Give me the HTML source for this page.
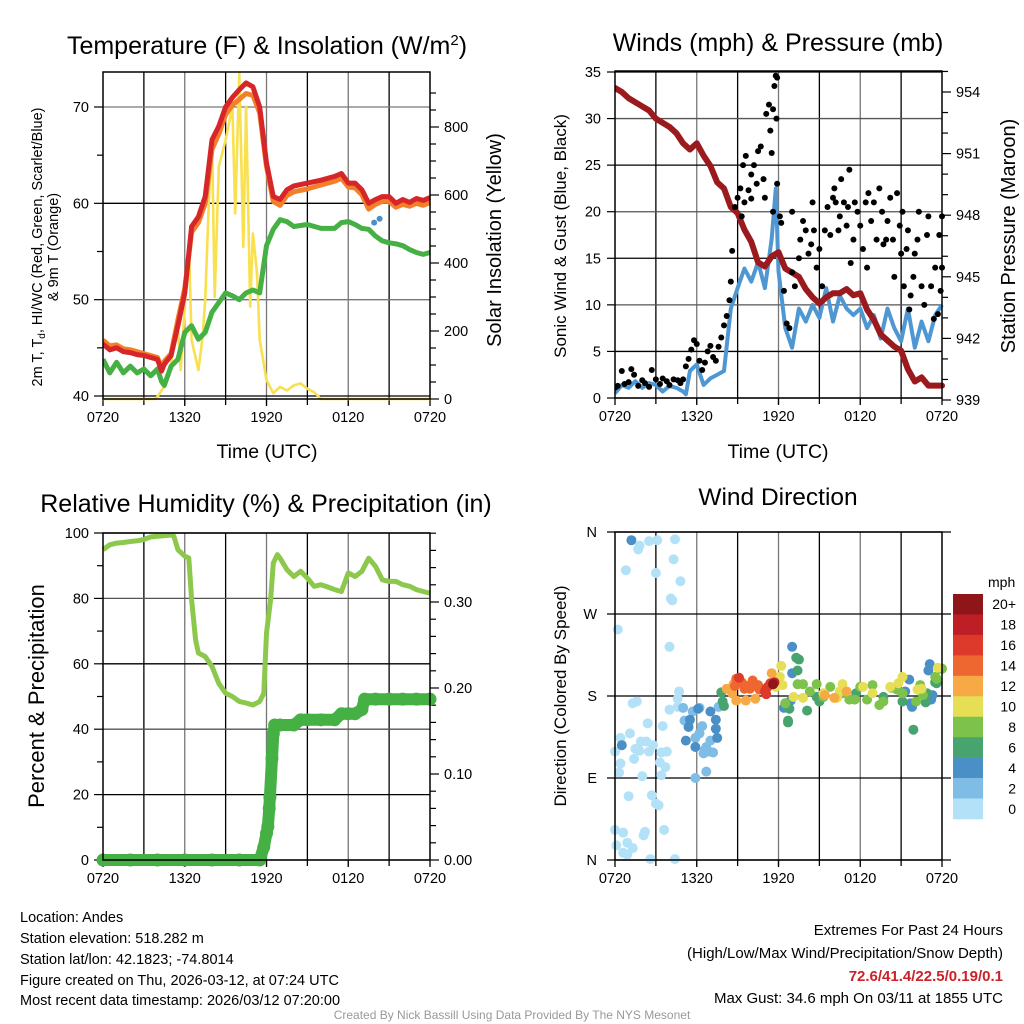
<!DOCTYPE html>
<html><head><meta charset="utf-8"><style>
html,body{margin:0;padding:0;background:#fff;width:1024px;height:1024px;overflow:hidden}
svg{display:block;font-family:"Liberation Sans",Arial,sans-serif}
</style></head><body>
<svg id="chart" width="1024" height="1024" viewBox="0 0 1024 1024" xmlns="http://www.w3.org/2000/svg">
<rect width="1024" height="1024" fill="#fff"/>
<g id="g1"></g>
<g id="g2"></g>
<g id="g3"></g>
<g id="g4"></g>
<text x="267" y="54" font-size="25" text-anchor="middle">Temperature (F) &amp; Insolation (W/m<tspan dy="-9" font-size="15">2</tspan><tspan dy="9">)</tspan></text>
<text x="778" y="51" font-size="25" text-anchor="middle">Winds (mph) &amp; Pressure (mb)</text>
<text x="266" y="512" font-size="25" text-anchor="middle">Relative Humidity (%) &amp; Precipitation (in)</text>
<text x="778" y="505" font-size="24.5" text-anchor="middle">Wind Direction</text>
<text x="267" y="458" font-size="19.5" text-anchor="middle">Time (UTC)</text>
<text x="778" y="458" font-size="19.5" text-anchor="middle">Time (UTC)</text>
<text transform="translate(42,247) rotate(-90)" font-size="14.5" text-anchor="middle">2m T, T<tspan dy="3" font-size="10">d</tspan><tspan dy="-3">, HI/WC (Red, Green, Scarlet/Blue)</tspan></text>
<text transform="translate(58,247) rotate(-90)" font-size="14.5" text-anchor="middle">&amp; 9m T (Orange)</text>
<text transform="translate(501,240) rotate(-90)" font-size="20" text-anchor="middle">Solar Insolation (Yellow)</text>
<text transform="translate(566,236) rotate(-90)" font-size="17" text-anchor="middle">Sonic Wind &amp; Gust (Blue, Black)</text>
<text transform="translate(1015,236) rotate(-90)" font-size="20" text-anchor="middle">Station Pressure (Maroon)</text>
<text transform="translate(44,696) rotate(-90)" font-size="22" text-anchor="middle">Percent &amp; Precipitation</text>
<text transform="translate(566,696) rotate(-90)" font-size="17" text-anchor="middle">Direction (Colored By Speed)</text>
<g font-size="14.5">
<text x="20" y="922">Location: Andes</text>
<text x="20" y="943">Station elevation: 518.282 m</text>
<text x="20" y="964">Station lat/lon: 42.1823; -74.8014</text>
<text x="20" y="985">Figure created on Thu, 2026-03-12, at 07:24 UTC</text>
<text x="20" y="1005">Most recent data timestamp: 2026/03/12 07:20:00</text>
</g>
<g font-size="15" text-anchor="end">
<text x="1003" y="935">Extremes For Past 24 Hours</text>
<text x="1003" y="958">(High/Low/Max Wind/Precipitation/Snow Depth)</text>
<text x="1003" y="981" fill="#cc2229" font-weight="bold">72.6/41.4/22.5/0.19/0.1</text>
<text x="1003" y="1003">Max Gust: 34.6 mph On 03/11 at 1855 UTC</text>
</g>
<text x="512" y="1019" font-size="12" fill="#999" text-anchor="middle">Created By Nick Bassill Using Data Provided By The NYS Mesonet</text>
</svg>
<script>
// ---------- data ----------
const xTickLabels = ["0720","1320","1920","0120","0720"];
const tempHours = [0,0.5,1,1.5,2,2.5,3,3.5,4,4.3,4.5,5,5.5,6,6.5,7,7.5,8,8.5,9,9.5,10,10.5,11,11.5,12,12.5,13,13.5,14,15,16,17,17.5,18,18.5,19,19.5,20,20.5,21,21.5,22,22.5,23,23.5,24];
const airTemp = [45.4,44.8,45.0,44.6,44.5,44.3,44.2,44.0,43.8,42.6,43.3,44.2,47.3,50.7,57.6,58.6,60.7,66.6,68.0,70.0,71.0,71.8,72.5,72.1,70.0,64.2,60.7,60.4,61.4,61.8,62.1,62.4,62.8,63.1,62.1,62.1,61.4,60.0,60.4,60.7,60.7,60.0,60.4,60.1,60.5,60.3,60.6];
const temp9m = [45.8,45.2,45.3,44.9,44.8,44.6,44.4,44.2,44.0,42.9,43.6,44.4,47.9,51.2,57.0,58.0,60.0,65.6,67.2,69.2,70.2,70.8,71.4,71.2,69.4,63.8,60.2,59.8,60.8,61.2,61.5,61.9,62.3,62.6,61.7,61.6,60.9,59.4,59.9,60.2,60.2,59.6,59.9,59.7,60.0,59.8,60.1];
const dewPoint = [43.8,42.4,43.5,42.4,43.1,42.4,42.8,42.1,42.8,41.5,41.1,43.1,43.8,46.6,47.3,45.9,46.6,48.7,49.7,50.7,50.4,50.0,50.7,51.0,50.7,55.6,57.3,58.3,58.1,57.6,57.8,57.4,57.4,58.0,58.1,57.8,57.4,57.3,56.6,56.1,55.9,55.8,55.6,55.2,54.9,54.7,54.9];
const hiwcHours = [19.9,20.3];
const hiwcTemp = [58.0,58.4];
const solarHours = [0,3.8,4,4.5,5,5.2,5.5,5.7,6,6.3,6.5,7,7.3,7.5,7.8,8,8.2,8.5,9,9.5,9.7,10,10.3,10.5,10.8,11,11.3,11.5,12,12.5,13,13.5,14,14.5,15,15.5,16,24];
const solar = [0,0,7,36,95,193,213,85,272,468,174,85,180,291,615,762,300,683,762,860,546,958,448,860,272,487,370,174,56,17,36,25,40,46,30,20,0,0];
const windHours = [0,0.5,1,1.5,2,2.5,3,3.5,4,4.5,5,5.2,5.5,6,6.5,7,7.5,8,8.5,9,9.5,10,10.5,11,11.5,11.8,12,12.5,13,13.5,14,14.5,15,15.5,16,16.5,17,17.5,18,18.5,19,19.5,20,20.5,21,21.5,22,22.5,23,23.5,24];
const sonicWind = [0.5,1.4,1.1,1.8,1.1,1.6,1.4,0.7,1.3,1.1,0.7,0.4,2.9,3.6,1.4,2.1,2.5,2.9,9.6,11.8,13.9,12.5,14.6,11.8,17.1,22.5,13.6,7.5,5.4,9.6,8.2,10.0,8.6,11.8,8.2,11.0,9.6,8.9,9.6,7.5,8.9,6.4,9.6,7.5,6.1,9.6,5.4,8.2,6.1,8.9,10.0];
const pressHours = [0,0.5,1,1.5,2,2.5,3,3.5,4,4.5,5,5.5,6,6.5,7,7.5,8,8.5,9,9.5,10,10.5,11,11.5,12,12.5,13,13.5,14,14.5,15,15.5,16,16.5,17,17.5,18,18.5,19,19.5,20,20.5,21,21.5,22,22.5,23,23.5,24];
const pressure = [954.2,954.0,953.7,953.5,953.3,953.1,952.7,952.5,952.3,952.0,951.5,951.2,951.5,950.9,950.4,949.6,949.3,948.4,948.1,947.3,946.7,945.7,945.5,946.0,946.2,945.4,945.2,945.0,944.4,944.0,943.7,944.0,944.2,944.2,944.4,944.1,944.2,943.4,942.9,942.2,941.9,941.6,941.4,940.5,939.9,940.1,939.7,939.7,939.7];
const gustHours = [0,0.2,0.5,0.7,1,1.2,1.4,1.7,2,2.2,2.5,2.7,3,3.3,3.5,3.8,4,4.3,4.6,4.8,5,5.2,5.4,5.6,5.8,6,6.2,6.4,6.6,6.8,7,7.2,7.4,7.6,7.8,8,8.2,8.4,8.5,8.6,8.8,9,9.2,9.4,9.6,9.3,9.5,9.8,10,10,10.2,10.4,10.5,10.7,10.9,11,11.1,11.3,11.4,11.5,11.6,11.7,11.8,11.9,11.85,11.6,11.9,12.1,12.2,12.4,12.6,12.8,13,13,13.2,13.5,13.6,13.8,14,14.2,14.4,14.5,14.6,14.8,15,15.2,15.4,15.6,15.8,16,16.1,16.2,16.4,16.5,16.6,16.8,17,17.1,17.2,17.3,17.5,17.6,17.8,18,18.2,18.4,18.5,18.6,18.8,19,19.2,19.4,19.6,19.7,19.9,20,20.2,20.4,20.5,20.7,20.9,21,21.1,21.2,21.4,21.5,21.6,21.7,21.9,22,22.2,22.3,22.5,22.7,22.9,23,23.2,23.4,23.5,23.7,23.8,24,24,23.9];
const gusts = [1.1,1.3,2.9,1.5,1.7,3.1,2.5,1.3,1.9,1.6,1.2,3.0,2.0,1.5,2.1,1.8,1.4,2.0,1.9,1.6,2.0,3.4,4.2,5.2,6.2,5.8,4.0,3.0,3.8,5.0,5.6,4.4,4.0,5.5,6.5,7.8,8.8,10.5,12.5,15.8,20.5,21.5,22.5,25.0,26.0,19.5,21.0,22.3,21.4,24.0,25.0,23.0,26.5,27.0,23.5,21.5,30.5,31.5,28.7,26.3,31.0,33.5,34.6,34.4,30.0,20.0,23.0,19.5,18.8,11.5,8.0,7.5,13.5,20.0,12.0,15.0,17.0,19.0,18.0,15.5,16.5,21.0,18.0,14.0,16.0,12.0,18.0,20.5,17.5,21.5,22.5,21.0,18.0,19.5,23.5,21.0,18.5,20.5,24.5,14.5,17.0,21.0,20.0,18.5,16.0,21.0,14.0,22.0,19.0,21.0,17.0,22.5,20.0,16.5,17.0,19.0,21.5,17.0,13.0,22.0,18.5,15.5,20.0,12.0,16.0,18.0,9.5,11.0,13.0,15.5,17.0,20.0,12.0,10.0,17.5,19.5,12.0,8.5,14.0,9.0,17.5,19.5,14.0,11.5];
const rhHours = [0,0.5,1,1.5,2,2.5,3,3.5,4,4.5,5,5.2,5.5,6,6.3,6.5,6.8,7,7.5,8,8.5,9,9.5,10,10.5,11,11.5,11.8,12,12.3,12.5,12.8,13,13.5,14,14.5,15,15.5,16,16.5,17,17.5,18,18.5,19,19.5,20,20.5,21,21.5,22,22.5,23,23.5,24];
const humidity = [94.9,96.4,96.9,97.1,97.4,97.6,98.0,98.8,99.0,99.2,99.4,99.0,94.9,92.9,92.4,79.6,67.3,63.3,62.2,59.2,54.0,51.0,50.0,48.5,48.0,47.4,48.5,51.0,69.4,79.6,90.8,93.4,92.3,88.8,86.7,88.3,86.2,83.7,84.2,83.5,82.7,82.1,87.8,86.7,88.3,92.3,89.8,85.7,85.2,85.2,84.2,83.7,82.7,82.1,81.6];
const precipHours = [0,2,4,6,8,10,11.5,11.8,12.0,12.1,12.2,12.25,12.4,12.5,12.6,13,14,14.5,15,16,17,17.5,18,18.5,19,19.2,20,21,22,23,24];
const precip = [0,0,0,0,0,0,0,0.015,0.031,0.039,0.060,0.073,0.118,0.147,0.157,0.157,0.157,0.163,0.163,0.163,0.163,0.170,0.170,0.170,0.175,0.187,0.187,0.187,0.187,0.187,0.187];
const dirHours = [1.7,1.8,2.5,3.1,4.4,0.8,3.0,4.3,4.8,4.1,4.2,0.2,4.0,4.7,4.6,4.0,1.6,1.3,2.4,3.5,1.1,0.4,0.0,1.5,1.9,2.3,2.8,1.8,1.4,2.5,3.4,3.8,0.4,0.3,2.0,3.3,3.7,3.4,1.0,2.7,3.0,3.2,3.6,0.0,0.6,2.2,2.1,0.9,0.1,1.3,0.6,0.9,2.6,4.4,4.6,
 5.0,5.1,5.4,6.2,6.4,5.9,6.2,6.5,6.9,7.2,6.7,7.0,5.9,6.7,5.7,7.6,6.6,
 1.2,0.5,5.2,5.4,5.5,7.4,7.4,7.5,7.0,6.1,5.9,13.0,13.0,12.9,12.4,21.6,21.3,21.7,23.1,23.0,23.3,23.2,21.8,
 7.8,7.9,8.0,12.5,12.8,12.7,12.7,13.3,13.5,13.4,14.1,14.8,15.0,21.1,21.9,22.8,22.9,23.5,23.6,23.8,17.7,19.7,
 12.5,13.4,13.8,14.3,14.8,15.8,16.7,17.6,18.0,18.5,18.9,19.4,19.7,20.3,20.7,21.1,22.4,22.6,23.6,24.0,22.1,23.5,15.3,17.2,
 12.2,12.3,13.1,13.8,15.3,16.3,16.7,18.2,18.9,20.2,20.8,21.1,22.2,22.5,23.7,11.8,12.1,16.5,
 8.2,8.7,8.9,9.6,10.3,10.9,11.5,15.4,16.1,17.0,8.6,
 8.9,9.3,9.9,10.1,10.5,10.6,9.7,8.8,9.5,
 9.1,11.1,11.1,11.4,11.2,11.0,11.6,11.7,11.6];
const dirDegrees = [341,345,350,351,352,318,315,330,306,287,285,253,234,185,177,165,174,172,150,147,139,134,119,122,130,130,126,120,111,119,118,119,106,96,92,107,102,93,70,71,62,60,33,33,30,31,27,19,16,13,8,6,1,1,168,
 167,153,151,167,147,134,139,117,119,118,124,131,90,97,163,168,121,
 351,126,131,146,154,154,144,134,163,166,124,234,205,175,167,198,185,172,215,208,181,176,168,
 184,174,169,172,166,151,153,222,220,208,164,179,174,174,143,173,183,195,194,210,183,179,
 172,193,193,185,193,190,183,176,190,176,192,170,174,189,187,183,192,181,199,210,174,201,179,176,
 213,192,179,178,183,178,193,190,183,190,194,201,187,188,211,190,201,185,
 188,193,175,175,177,187,205,181,178,185,183,
 199,195,188,197,192,187,191,191,188,
 200,182,188,194,190,185,193,195,193];
const dirSpeeds = [1,1,1,1,1,1,1,1,1,1,1,1,1,1,1,1,1,1,1,1,1,1,1,1,1,1,1,1,1,1,1,1,1,1,1,1,1,1,1,1,1,1,1,1,1,1,1,1,1,1,1,1,1,1,1,
 3,3,3,3,3,3,3,3,3,3,3,3,3,3,3,3,3,
 5,5,5,5,5,5,5,5,5,5,5,5,5,5,5,5,5,5,5,5,5,5,5,
 7,7,7,7,7,7,7,7,7,7,7,7,7,7,7,7,7,7,7,7,7,7,
 9,9,9,9,9,9,9,9,9,9,9,9,9,9,9,9,9,9,9,9,9,9,9,9,
 11,11,11,11,11,11,11,11,11,11,11,11,11,11,11,11,11,11,
 13,13,13,13,13,13,13,13,13,13,13,
 15,15,15,15,15,15,15,15,15,
 17,17,17,17,17,17,19,19,21];
const speedLabels = ["20+","18","16","14","12","10","8","6","4","2","0"];
const speedColors = ["#8e1619","#be1e26","#de3a2b","#ee6730","#f7a945","#e6df55","#7dc24a","#48a46f","#4b8fc7","#7fbde6","#b3e2f8"];

// ---------- helpers ----------
const NS = "http://www.w3.org/2000/svg";
function mk(parent, tag, attrs) {
  const e = document.createElementNS(NS, tag);
  for (const k in attrs) e.setAttribute(k, attrs[k]);
  parent.appendChild(e);
  return e;
}
function linScale(d0, d1, r0, r1) { return v => r0 + (v - d0) * (r1 - r0) / (d1 - d0); }
function pathFrom(xs, ys, sx, sy) {
  let d = "";
  for (let i = 0; i < xs.length; i++) d += (i ? "L" : "M") + sx(xs[i]).toFixed(1) + " " + sy(ys[i]).toFixed(1);
  return d;
}
function frame(g, L, T, R, B, xs) {
  for (let h = 3; h < 24; h += 3) {
    const ln = mk(g, "line", {x1: xs(h), x2: xs(h), y1: T, y2: B + 6, stroke: h % 6 ? "#000" : "#777", "stroke-width": 1.3});
    
    
  }
  for (let i = 0; i < xTickLabels.length; i++) {
    const h = i * 6;
    const tk = mk(g, "line", {x1: xs(h), x2: xs(h), y1: B, y2: B + 7, stroke: "#000", "stroke-width": 1.3});
    
    
    const t = mk(g, "text", {x: xs(h), y: B + 23, "font-size": 14.5, "text-anchor": "middle"});
    t.textContent = xTickLabels[i];
    
    
  }
}
function hline(g, L, R, y, col) {
  const ln = mk(g, "line", {x1: L, x2: R, y1: y, y2: y, stroke: col, "stroke-width": 1.3});
  
  
}
function leftTick(g, x, y, label, len) {
  const tk = mk(g, "line", {x1: x - len, x2: x, y1: y, y2: y, stroke: "#000", "stroke-width": 1.2});
  
  
  if (label !== null) {
    const t = mk(g, "text", {x: x - 14, y: y + 5, "font-size": 14.5, "text-anchor": "end"});
    t.textContent = label;
    
    
  }
}
function rightTick(g, x, y, label, len) {
  const tk = mk(g, "line", {x1: x, x2: x + len, y1: y, y2: y, stroke: "#000", "stroke-width": 1.2});
  
  
  if (label !== null) {
    const t = mk(g, "text", {x: x + 14, y: y + 5, "font-size": 14.5, "text-anchor": "start"});
    t.textContent = label;
    
    
  }
}
function border(g, L, T, R, B) {
  const r = mk(g, "rect", {x: L, y: T, width: R - L, height: B - T, fill: "none", stroke: "#000", "stroke-width": 1.5});
  
  
}
function clip(id, L, T, R, B) {
  const svg = document.getElementById("chart");
  const c = mk(svg, "clipPath", {id: id});
  mk(c, "rect", {x: L, y: T - 2, width: R - L + 4, height: B - T + 4});
}

// ---------- panel 1 ----------
(function () {
  const g = document.getElementById("g1");
  const L = 103, R = 430, T = 72, B = 399;
  const xs = linScale(0, 24, L, R);
  const yT = linScale(40, 70, 396, 107);
  const yS = linScale(0, 800, 399, 127);
  frame(g, L, T, R, B, xs);
  [40, 50, 60, 70].forEach(v => hline(g, L, R, yT(v), v % 20 ? "#777" : "#000"));
  [40, 45, 50, 55, 60, 65, 70].forEach(v => leftTick(g, L, yT(v), v % 10 ? null : String(v), v % 10 ? 6 : 9));
  for (let v = 0; v <= 900; v += 50) rightTick(g, R, yS(v), v % 200 ? null : String(v), v % 200 ? 6 : 9);
  clip("c1", L, T, R, B);
  const pg = mk(g, "g", {"clip-path": "url(#c1)"});
  const s = mk(pg, "path", {d: pathFrom(solarHours, solar, xs, yS), fill: "none", stroke: "#f9e04f", "stroke-width": 2.6, "stroke-linejoin": "round"});
  
  
  const dp = mk(pg, "path", {d: pathFrom(tempHours, dewPoint, xs, yT), fill: "none", stroke: "#45b043", "stroke-width": 5, "stroke-linejoin": "round"});
  
  
  const o = mk(pg, "path", {d: pathFrom(tempHours, temp9m, xs, yT), fill: "none", stroke: "#f47f29", "stroke-width": 5, "stroke-linejoin": "round"});
  
  
  const r = mk(pg, "path", {d: pathFrom(tempHours, airTemp, xs, yT), fill: "none", stroke: "#d7262a", "stroke-width": 5, "stroke-linejoin": "round"});
  
  
  for (let i = 0; i < hiwcHours.length; i++) {
    const c = mk(pg, "circle", {cx: xs(hiwcHours[i]), cy: yT(hiwcTemp[i]), r: 3, fill: "#4a90c8"});
    
    
  }
  border(g, L, T, R, B);
})();

// ---------- panel 2 ----------
(function () {
  const g = document.getElementById("g2");
  const L = 615, R = 942, T = 71, B = 398;
  const xs = linScale(0, 24, L, R);
  const yW = linScale(0, 35, 398, 72);
  const yP = linScale(939, 954, 400, 92);
  frame(g, L, T, R, B, xs);
  for (let v = 0; v <= 35; v += 5) { hline(g, L, R, yW(v), v % 10 ? "#000" : "#555"); leftTick(g, L, yW(v), String(v), 8); }
  for (let v = 939; v <= 955; v += 1) rightTick(g, R, yP(v), (v - 939) % 3 ? null : String(v), (v - 939) % 3 ? 6 : 9);
  clip("c2", L, T, R, B);
  const pg = mk(g, "g", {"clip-path": "url(#c2)"});
  const w = mk(pg, "path", {d: pathFrom(windHours, sonicWind, xs, yW), fill: "none", stroke: "#4f97d3", "stroke-width": 4, "stroke-linejoin": "round"});
  
  
  const p = mk(pg, "path", {d: pathFrom(pressHours, pressure, xs, yP), fill: "none", stroke: "#9b1a1e", "stroke-width": 6, "stroke-linejoin": "round", "stroke-linecap": "round"});
  
  
  for (let i = 0; i < gusts.length; i++) {
    const c = mk(pg, "circle", {cx: xs(gustHours[i]), cy: yW(gusts[i]), r: 3, fill: "#000"});
    
    
  }
  border(g, L, T, R, B);
})();

// ---------- panel 3 ----------
(function () {
  const g = document.getElementById("g3");
  const L = 103, R = 430, T = 533, B = 860;
  const xs = linScale(0, 24, L, R);
  const yH = linScale(0, 100, 860, 533);
  const yPr = linScale(0, 0.1, 860, 774);
  frame(g, L, T, R, B, xs);
  for (let v = 0; v <= 100; v += 10) {
    if (v % 20 === 0) hline(g, L, R, yH(v), v % 40 ? "#000" : "#555");
    leftTick(g, L, yH(v), v % 20 ? null : String(v), v % 20 ? 6 : 9);
  }
  for (let v = 0; v <= 38; v += 2) rightTick(g, R, yPr(v / 100), v % 10 ? null : (v / 100).toFixed(2), v % 10 ? 6 : 9);
  clip("c3", L - 10, T, R + 10, B + 8);
  const pg = mk(g, "g", {"clip-path": "url(#c3)"});
  const h = mk(pg, "path", {d: pathFrom(rhHours, humidity, xs, yH), fill: "none", stroke: "#8cc84b", "stroke-width": 5, "stroke-linejoin": "round"});
  
  
  const pl = mk(pg, "path", {d: pathFrom(precipHours, precip, xs, yPr), fill: "none", stroke: "#45b043", "stroke-width": 12, "stroke-linejoin": "round", "stroke-linecap": "round"});
  
  
  for (let i = 0; i < precip.length; i++) {
    const c = mk(pg, "circle", {cx: xs(precipHours[i]), cy: yPr(precip[i]), r: 6.5, fill: "#45b043"});
    
    
  }
  border(g, L, T, R, B);
})();

// ---------- panel 4 ----------
(function () {
  const g = document.getElementById("g4");
  const L = 615, R = 942, T = 532, B = 860;
  const xs = linScale(0, 24, L, R);
  const yD = linScale(0, 360, 860, 532);
  frame(g, L, T, R, B, xs);
  const dirLabels = ["N", "E", "S", "W", "N"];
  for (let i = 0; i < 5; i++) {
    const y = yD(i * 90);
    const ln = mk(g, "line", {x1: L - 8, x2: R + 9, y1: y, y2: y, stroke: "#000", "stroke-width": 1.3});
    
    
    const t = mk(g, "text", {x: L - 18, y: y + 5, "font-size": 14.5, "text-anchor": "end"});
    t.textContent = dirLabels[i];
    
    
  }
  for (let i = 0; i < dirHours.length; i++) {
    const idx = Math.max(0, Math.min(10, 10 - Math.floor(dirSpeeds[i] / 2)));
    const c = mk(g, "circle", {cx: xs(dirHours[i]), cy: yD(dirDegrees[i]), r: 5, fill: speedColors[idx]});
    
    
  }
  border(g, L, T, R, B);
  const cb = mk(g, "g", {});
  
  
  const ut = mk(cb, "text", {x: 988, y: 587, "font-size": 14, "text-anchor": "start"});
  ut.textContent = "mph";
  
  
  const bh = 225 / speedColors.length;
  for (let i = 0; i < speedColors.length; i++) {
    const r = mk(cb, "rect", {x: 953, y: 594 + i * bh, width: 30, height: bh + 0.3, fill: speedColors[i]});
    
    
    const t = mk(cb, "text", {x: 1016, y: 594 + i * bh + bh / 2 + 5, "font-size": 14, "text-anchor": "end"});
    t.textContent = speedLabels[i];
    
    
  }
})();
</script>
</body></html>
